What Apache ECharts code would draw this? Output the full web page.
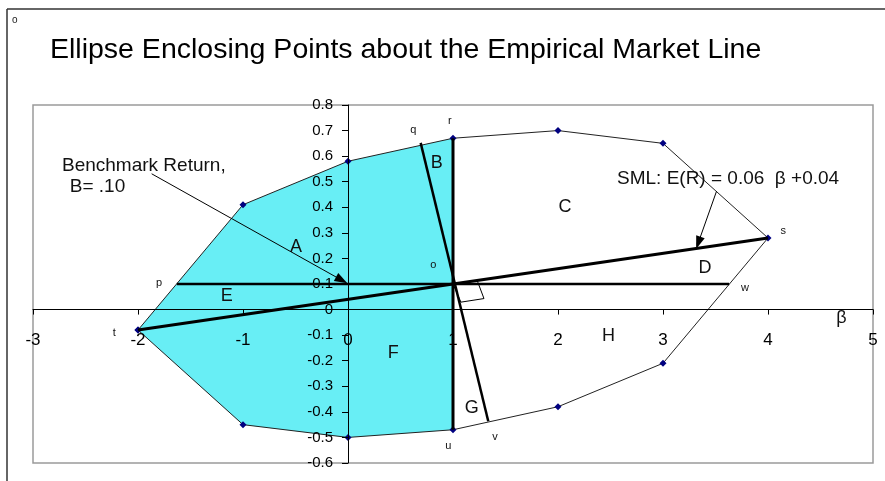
<!DOCTYPE html>
<html>
<head>
<meta charset="utf-8">
<script src="https://cdn.jsdelivr.net/npm/echarts@6/dist/echarts.min.js"></script>
<style>
  html, body { margin: 0; padding: 0; background: #fff; }
  #chart { width: 885px; height: 481px; }
</style>
</head>
<body>
<div id="chart"></div>
<script>
// ellipse boundary points (beta, return)
const ellipseX = [-2, -1, 0, 1, 2, 3, 4, 3, 2, 1, 0, -1, -2];
const ellipseY = [-0.08, 0.41, 0.58, 0.67, 0.70, 0.65, 0.28, -0.21, -0.38, -0.47, -0.50, -0.45, -0.08];

// straight lines
const smlX = [-2, 4];
const smlY = [-0.08, 0.28];
const benchX = [-1.63, 3.63];
const benchY = [0.1, 0.1];
const ruX = [1, 1];
const ruY = [0.67, -0.47];
const qvX = [0.692, 1.336];
const qvY = [0.652, -0.437];
const squareX = [1, 1.23, 1.295, 1.075, 1];
const squareY = [0.1, 0.114, 0.043, 0.029, 0.1];

// arrows: [fromX, fromY, toX, toY]
const benchArrow = [-1.87, 0.531, -0.06, 0.115];
const smlArrow = [3.51, 0.463, 3.336, 0.261];

// axis ranges
const xMin = -3, xMax = 5, xStep = 1;
const yMin = -0.6, yMax = 0.8, yStep = 0.1;

// text annotations placed in data units
const regionLabels = [['A', -0.495, 0.246], ['B', 0.845, 0.574], ['C', 2.067, 0.40], ['D', 3.40, 0.163],
  ['E', -1.155, 0.052], ['F', 0.432, -0.169], ['G', 1.178, -0.385], ['H', 2.48, -0.102], ['β', 4.70, -0.033]];
const pointLabels = [['o', 0.813, 0.173], ['p', -1.80, 0.104], ['q', 0.622, 0.704], ['r', 0.971, 0.736],
  ['s', 4.146, 0.306], ['t', -2.225, -0.091], ['u', 0.955, -0.535], ['v', 1.40, -0.498], ['w', 3.78, 0.085]];
const noteLabels = [['Benchmark Return,', -2.724, 0.563], [' B= .10', -2.70, 0.481], ['SML: E(R) = 0.06  β +0.04', 2.562, 0.512]];

const FONT = 'Liberation Sans, Arial, sans-serif';
const zip = (xs, ys) => xs.map((x, i) => [x, ys[i]]);

const ellipse = zip(ellipseX, ellipseY);
const shaded = ellipse.filter(p => p[0] <= 1);

// grid box; axes are moved so that they cross at (0, 0)
const W = 885, H = 481;
const grid = { left: 33, right: 12, top: 105, bottom: 18 };
const gw = W - grid.left - grid.right;
const gh = H - grid.top - grid.bottom;
const xAxisOffset = -gh * (0 - yMin) / (yMax - yMin);
const yAxisOffset = -gw * (0 - xMin) / (xMax - xMin);

function textSeries(list, size, align) {
  return {
    type: 'custom',
    z: 6,
    silent: true,
    data: list.map(l => [l[1], l[2]]),
    encode: { x: 0, y: 1 },
    renderItem: (params, api) => {
      const p = api.coord([api.value(0), api.value(1)]);
      return {
        type: 'text', x: p[0], y: p[1],
        style: { text: list[params.dataIndex][0], fill: '#111', font: size + 'px ' + FONT,
          align: align, verticalAlign: 'middle' }
      };
    }
  };
}

function lineSeries(data, width, z) {
  return {
    type: 'line', data: data, symbol: 'none', z: z, silent: true,
    lineStyle: { color: '#000', width: width }
  };
}

const chart = echarts.init(document.getElementById('chart'));
chart.setOption({
  animation: false,
  backgroundColor: '#fff',
  title: {
    text: 'Ellipse Enclosing Points about the Empirical Market Line',
    left: 45, top: 31,
    textStyle: { fontFamily: FONT, fontSize: 28.5, fontWeight: 'normal', color: '#000' }
  },
  graphic: [
    { type: 'line', shape: { x1: 7, y1: 9, x2: 885, y2: 9 }, style: { stroke: '#333', lineWidth: 1.5 } },
    { type: 'line', shape: { x1: 7, y1: 9, x2: 7, y2: 481 }, style: { stroke: '#333', lineWidth: 1.5 } },
    { type: 'text', left: 12, top: 15, style: { text: 'o', font: '10px ' + FONT, fill: '#222' } }
  ],
  grid: Object.assign({ show: true, borderColor: '#9a9a9a', borderWidth: 1.5 }, grid),
  xAxis: {
    type: 'value', min: xMin, max: xMax, interval: xStep, z: 4,
    position: 'bottom', offset: xAxisOffset,
    axisLine: { onZero: false, lineStyle: { color: '#000', width: 1 } },
    axisTick: { show: true, length: 5, lineStyle: { color: '#000' } },
    axisLabel: { margin: 22, color: '#000', fontFamily: FONT, fontSize: 17 },
    splitLine: { show: false }
  },
  yAxis: {
    type: 'value', min: yMin, max: yMax, interval: yStep, z: 4,
    position: 'left', offset: yAxisOffset,
    axisLine: { onZero: false, lineStyle: { color: '#000', width: 1 } },
    axisTick: { show: true, length: 6, lineStyle: { color: '#000' } },
    axisLabel: { margin: 15, color: '#000', fontFamily: FONT, fontSize: 15,
      formatter: v => String(Math.round(v * 10) / 10) },
    splitLine: { show: false }
  },
  series: [
    {
      type: 'custom', z: 1, silent: true,
      data: [[0, 0]], encode: { x: 0, y: 1 },
      renderItem: (params, api) => ({
        type: 'polygon',
        shape: { points: shaded.map(p => api.coord(p)) },
        style: { fill: '#68eef5' }
      })
    },
    {
      type: 'line', data: ellipse, z: 3, silent: true,
      symbol: 'diamond', symbolSize: 7,
      itemStyle: { color: '#000080' },
      lineStyle: { color: '#222', width: 1 }
    },
    Object.assign(lineSeries(zip(smlX, smlY), 3, 5), {
      markLine: {
        silent: true, symbol: ['none', 'triangle'], symbolSize: [9, 13],
        label: { show: false },
        lineStyle: { color: '#000', width: 1, type: 'solid' },
        data: [benchArrow, smlArrow].map(a => [{ coord: [a[0], a[1]] }, { coord: [a[2], a[3]] }])
      }
    }),
    lineSeries(zip(benchX, benchY), 2.5, 5),
    lineSeries(zip(ruX, ruY), 3, 5),
    lineSeries(zip(qvX, qvY), 2.5, 5),
    lineSeries(zip(squareX, squareY), 1, 5),
    textSeries(regionLabels, 18, 'center'),
    textSeries(pointLabels, 11, 'center'),
    textSeries(noteLabels, 19, 'left')
  ]
});
</script>
</body>
</html>
